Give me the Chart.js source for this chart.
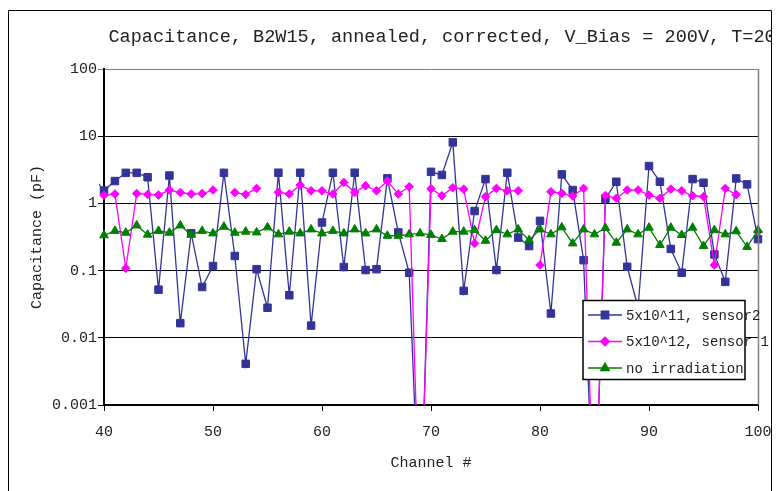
<!DOCTYPE html>
<html>
<head>
<meta charset="utf-8">
<title>Capacitance B2W15</title>
<script src="https://cdn.jsdelivr.net/npm/chart.js@4.4.1/dist/chart.umd.min.js"></script>
<style>
  html, body { margin: 0; padding: 0; background: #fff; }
  canvas { display: block; }
</style>
</head>
<body>
<canvas id="grafico" width="778" height="491"></canvas>
<script>
// canais medidos (39 e 101 ficam fora do eixo, só aparecem as pontas das linhas)
const canais = [39, 40, 41, 42, 43, 44, 45, 46, 47, 48, 49, 50, 51, 52, 53, 54, 55, 56, 57, 58, 59,
  60, 61, 62, 63, 64, 65, 66, 67, 68, 69, 70, 71, 72, 73, 74, 75, 76, 77, 78, 79,
  80, 81, 82, 83, 84, 85, 86, 87, 88, 89, 90, 91, 92, 93, 94, 95, 96, 97, 98, 99, 100, 101];

// capacitância em pF, null = canal sem medida
const sensor2 = [2.5, 1.55, 2.15, 2.85, 2.85, 2.45, 0.052, 2.6, 0.0165, 0.36, 0.057, 0.117, 2.85, 0.165, 0.0041, 0.105, 0.028,
  2.86, 0.043, 2.86, 0.0152, 0.52, 2.86, 0.113, 2.86, 0.102, 0.105, 2.36, 0.37, 0.093, 0.00001,
  2.95, 2.65, 8.1, 0.05, 0.77, 2.3, 0.102, 2.86, 0.31, 0.232,
  0.55, 0.023, 2.7, 1.58, 0.143, 0.00001, 1.17, 2.1, 0.114, 0.028,
  3.6, 2.1, 0.21, 0.093, 2.3, 2.03, 0.174, 0.068, 2.35, 1.92, 0.294, null];

const sensor1 = [null, 1.32, 1.38, 0.108, 1.4, 1.36, 1.33, 1.58, 1.45, 1.38, 1.4, 1.58, null, 1.45, 1.36, 1.67, null,
  1.46, 1.38, 1.87, 1.54, 1.54, 1.38, 2.05, 1.46, 1.83, 1.54, 2.15, 1.38, 1.77, 0.00001,
  1.65, 1.3, 1.71, 1.63, 0.254, 1.26, 1.67, 1.54, 1.54, null,
  0.121, 1.49, 1.41, 1.29, 1.67, 0.00001, 1.31, 1.19, 1.58, 1.58,
  1.33, 1.19, 1.63, 1.54, 1.3, 1.26, 0.121, 1.67, 1.35, null, 0.38, 5.9];

const semIrradiacao = [null, 0.335, 0.39, 0.366, 0.47, 0.342, 0.39, 0.366, 0.47, 0.342, 0.39, 0.358, 0.45, 0.366, 0.38, 0.37, 0.44,
  0.346, 0.38, 0.358, 0.41, 0.358, 0.39, 0.358, 0.41, 0.358, 0.41, 0.33, 0.33, 0.346, 0.358,
  0.34, 0.295, 0.38, 0.38, 0.40, 0.278, 0.40, 0.346, 0.41, 0.284,
  0.41, 0.346, 0.44, 0.254, 0.41, 0.346, 0.43, 0.26, 0.41, 0.346,
  0.435, 0.24, 0.435, 0.338, 0.435, 0.232, 0.40, 0.346, 0.385, 0.225, 0.40, null];

const nomesSeries = ['5x10^11, sensor2', '5x10^12, sensor 1', 'no irradiation'];
const ticksY = [0.001, 0.01, 0.1, 1, 10, 100];
const rotulosY = ['0.001', '0.01', '0.1', '1', '10', '100'];
const titulo = 'Capacitance, B2W15, annealed, corrected, V_Bias = 200V, T=20C';

const fonte = "'Liberation Mono', 'Courier New', monospace";

function pontos(valores) {
  return canais.map((c, i) => ({ x: c, y: valores[i] }));
}

// moldura, título e legenda desenhados à mão
const decoracao = {
  id: 'decoracao',
  beforeDraw(chart) {
    const c = chart.ctx;
    c.save();
    c.fillStyle = '#fff';
    c.fillRect(0, 0, chart.width, chart.height);
    c.restore();
  },
  afterDraw(chart) {
    const c = chart.ctx;
    const area = chart.chartArea;
    c.save();

    // borda direita da área do gráfico
    c.strokeStyle = '#808080';
    c.lineWidth = 1.5;
    c.beginPath();
    c.moveTo(area.right + 0.5, area.top);
    c.lineTo(area.right + 0.5, area.bottom);
    c.stroke();

    // legenda
    const lx = 583, ly = 300.5, lw = 162, lh = 79;
    c.fillStyle = '#fff';
    c.fillRect(lx, ly, lw, lh);
    c.strokeStyle = '#000';
    c.lineWidth = 1.5;
    c.strokeRect(lx, ly, lw, lh);
    const linhas = [315, 341.5, 368];
    chart.data.datasets.forEach((ds, i) => {
      const y = linhas[i];
      c.strokeStyle = ds.borderColor;
      c.lineWidth = ds.borderWidth;
      c.beginPath();
      c.moveTo(588, y);
      c.lineTo(622, y);
      c.stroke();
      c.fillStyle = ds.backgroundColor;
      c.strokeStyle = ds.borderColor;
      Chart.helpers.drawPoint(c, { pointStyle: ds.pointStyle, radius: ds.pointRadius, rotation: 0, borderWidth: 1 }, 605, y);
      c.fillStyle = '#222';
      c.font = '14px ' + fonte;
      c.textAlign = 'left';
      c.textBaseline = 'middle';
      c.fillText(ds.label, 626, y + 1);
    });

    // título
    c.fillStyle = '#222';
    c.font = '18.55px ' + fonte;
    c.textAlign = 'left';
    c.textBaseline = 'middle';
    c.fillText(titulo, 108.5, 37.5);

    // moldura externa (corta o título à direita)
    c.fillStyle = '#fff';
    c.fillRect(772, 0, chart.width - 772, chart.height);
    c.strokeStyle = '#000';
    c.lineWidth = 1;
    c.beginPath();
    c.moveTo(8.5, chart.height);
    c.lineTo(8.5, 10.5);
    c.lineTo(771.5, 10.5);
    c.lineTo(771.5, chart.height);
    c.stroke();
    c.restore();
  }
};

const recorte = { left: 5, right: 6, top: 0, bottom: 0 };

new Chart(document.getElementById('grafico'), {
  type: 'line',
  data: {
    datasets: [
      {
        label: nomesSeries[0], data: pontos(sensor2), order: 3,
        borderColor: '#333399', backgroundColor: '#333399', borderWidth: 1.3,
        pointStyle: 'rect', pointRadius: 5.3, pointBorderWidth: 1, clip: recorte
      },
      {
        label: nomesSeries[1], data: pontos(sensor1), order: 2,
        borderColor: '#ff00ff', backgroundColor: '#ff00ff', borderWidth: 1.3,
        pointStyle: 'rectRot', pointRadius: 4.3, pointBorderWidth: 1, clip: recorte
      },
      {
        label: nomesSeries[2], data: pontos(semIrradiacao), order: 1,
        borderColor: '#008000', backgroundColor: '#008000', borderWidth: 1.3,
        pointStyle: 'triangle', pointRadius: 5, pointBorderWidth: 1, clip: recorte
      }
    ]
  },
  options: {
    responsive: false,
    animation: false,
    devicePixelRatio: 1,
    spanGaps: false,
    layout: { padding: { top: 69, right: 20, left: 0, bottom: 0 } },
    plugins: {
      legend: { display: false },
      title: { display: false },
      tooltip: { enabled: false }
    },
    elements: { line: { tension: 0 } },
    scales: {
      x: {
        type: 'linear',
        min: 40,
        max: 100,
        // os rótulos das pontas podem sair da área, sem empurrar o gráfico
        afterFit: s => { s.height = 86; s.paddingLeft = 0; s.paddingRight = 0; },
        ticks: { stepSize: 10, padding: 12, color: '#222', font: { family: fonte, size: 15 } },
        grid: { drawOnChartArea: false, drawTicks: true, tickLength: 6, color: '#000' },
        border: { display: true, color: '#000', width: 2 },
        title: {
          display: true, text: 'Channel #', color: '#222',
          font: { family: fonte, size: 15 }, padding: { top: 0, bottom: 19 }
        }
      },
      y: {
        type: 'logarithmic',
        min: 0.001,
        max: 100,
        afterFit: s => { s.width = 104; },
        afterBuildTicks: s => { s.ticks = ticksY.map(v => ({ value: v })); },
        ticks: {
          padding: 1, color: '#222', font: { family: fonte, size: 15 },
          callback: v => rotulosY[ticksY.indexOf(v)]
        },
        grid: {
          drawTicks: true, tickLength: 6, lineWidth: 1,
          color: ctx => (ctx.tick && ctx.tick.value === 100 ? '#808080' : '#000')
        },
        border: { display: true, color: '#000', width: 2 },
        title: {
          display: true, text: 'Capacitance (pF)', color: '#222',
          font: { family: fonte, size: 15 }, padding: { top: 28, bottom: 0 }
        }
      }
    }
  },
  plugins: [decoracao]
});
</script>
</body>
</html>
